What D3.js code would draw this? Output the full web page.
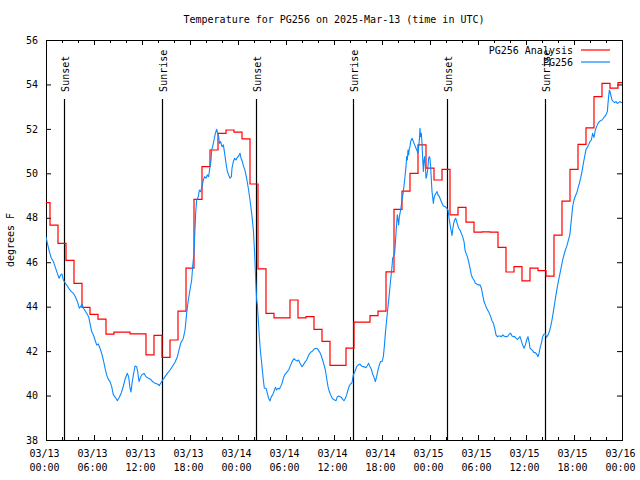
<!DOCTYPE html>
<html>
<head>
<meta charset="utf-8">
<script src="https://cdn.jsdelivr.net/npm/d3@7/dist/d3.min.js"></script>
<style>
  html, body { margin: 0; padding: 0; background: #fff; }
  svg { display: block; }
  text { font-family: "DejaVu Sans Mono", monospace; font-size: 10px; fill: #000; }
</style>
</head>
<body>
<svg id="chart" width="640" height="480"></svg>
<script>
// ---------------- DATA ----------------
const titleText = "Temperature for PG256 on 2025-Mar-13 (time in UTC)";
const yLabel = "degrees F";
const seriesNames = ["PG256 Analysis", "PG256"];

// Hourly analysis values (hour 0 = 03/13 00:00 UTC)
const analysisTemps = [
  48.68, 47.67, 46.85, 46.08, 45.05, 43.97, 43.65, 43.44, 42.76, 42.85,
  42.85, 42.78, 42.78, 41.83, 42.71, 41.72, 42.50, 43.80, 45.73, 48.83,
  50.30, 51.05, 51.80, 51.95, 51.85, 51.55, 49.52, 45.70, 43.70, 43.50,
  43.50, 44.30, 43.50, 43.55, 42.98, 42.44, 41.36, 41.36, 42.13, 43.30,
  43.30, 43.60, 43.80, 45.57, 48.38, 49.20, 50.00, 51.28, 50.23, 49.70,
  50.18, 48.13, 48.47, 47.80, 47.35, 47.37, 47.35, 46.67, 45.56, 45.80,
  45.16, 45.73, 45.62, 45.37, 47.22, 48.75, 50.18, 51.30, 52.05, 53.45,
  54.05, 53.83, 54.08
];

// Observations: hours since 03/13 00:00 UTC and temperature
const obsHours = [
  0, 0.17, 0.42, 0.67, 0.92, 1.17, 1.42, 1.63, 1.83, 2.0, 2.17, 2.42, 2.67, 2.92, 3.17, 3.42, 3.67, 3.92,
  4.17, 4.33, 4.5, 4.67, 4.88, 5.08, 5.33, 5.5, 5.71, 5.92, 6.13, 6.33, 6.54, 6.75, 6.96, 7.17, 7.38, 7.58,
  7.79, 8.0, 8.21, 8.42, 8.67, 8.92, 9.17, 9.42, 9.67, 9.92, 10.17, 10.33, 10.5, 10.63, 10.75, 10.92, 11.13,
  11.33, 11.46, 11.63, 11.75, 11.96, 12.25, 12.5, 12.79, 13.08, 13.33, 13.63, 13.92, 14.17, 14.33, 14.58,
  14.88, 15.17, 15.5, 15.83, 16.13, 16.42, 16.67,
  16.83, 17.17, 17.38, 17.58, 17.79, 18.0, 18.21, 18.33, 18.5, 18.58, 18.71, 18.83, 19.04, 19.17, 19.33,
  19.5, 19.67, 19.83, 20.0, 20.17, 20.33, 20.5, 20.63, 20.71, 20.83, 21.0, 21.17, 21.33, 21.46, 21.58,
  21.67, 21.83, 22.0, 22.17, 22.33, 22.5, 22.67, 22.83, 23.0, 23.17, 23.25, 23.42, 23.58, 23.75, 23.92,
  24.08, 24.25, 24.38, 24.54, 24.71, 24.88, 25.08, 25.29, 25.5, 25.71, 25.92, 26.08, 26.21, 26.33,
  26.42, 26.54, 26.67, 26.79, 26.92, 27.04, 27.17, 27.29, 27.5, 27.67, 27.83, 28.0, 28.17, 28.33, 28.5,
  28.67, 28.83, 29.0, 29.17, 29.33, 29.5, 29.67, 29.83, 30.0, 30.17, 30.33, 30.5, 30.67, 30.83, 31.0,
  31.17, 31.42, 31.58, 31.75, 32.0, 32.17, 32.42, 32.58, 32.75, 32.92, 33.08, 33.25, 33.42, 33.58, 33.75,
  33.92, 34.08, 34.25, 34.42, 34.58, 34.75, 34.92, 35.08, 35.25, 35.42, 35.58, 35.75, 35.92, 36.08, 36.25,
  36.42, 36.58, 36.75, 36.92, 37.08, 37.25, 37.42, 37.58, 37.75, 37.92, 38.08, 38.25,
  38.42, 38.58, 38.83, 39.04, 39.25, 39.38, 39.58, 39.75, 40.0, 40.17, 40.33, 40.5, 40.67, 40.83, 41.0,
  41.17, 41.33, 41.5, 41.67, 41.83, 42.0, 42.17, 42.29, 42.42, 42.58, 42.75, 42.92, 43.08, 43.25, 43.33,
  43.42, 43.58, 43.67, 43.75, 43.83, 43.92, 44.0, 44.08, 44.17, 44.33, 44.5, 44.67, 44.83, 45.0, 45.08,
  45.17, 45.25, 45.33, 45.42, 45.5, 45.58, 45.75, 45.92, 46.08, 46.25, 46.42, 46.5, 46.58, 46.67, 46.75,
  46.83, 46.92, 47.0, 47.08, 47.17, 47.25, 47.33, 47.42, 47.5, 47.58, 47.71, 47.83, 47.92, 48.0, 48.08,
  48.17, 48.25, 48.33, 48.42, 48.5, 48.63, 48.75, 48.88, 49.0, 49.17, 49.33, 49.5, 49.67, 49.92, 50.08,
  50.25, 50.42, 50.58, 50.75,
  50.83, 50.96, 51.08, 51.21, 51.33, 51.46, 51.58, 51.75, 51.92, 52.08, 52.25, 52.38, 52.5, 52.67, 52.83,
  53.0, 53.17, 53.33, 53.5, 53.67, 53.83, 54.0, 54.25, 54.42, 54.58, 54.75, 54.92, 55.08, 55.25, 55.42,
  55.58, 55.75, 55.92, 56.08, 56.25, 56.42, 56.58, 56.75, 56.92, 57.08, 57.25, 57.42, 57.58, 57.75, 57.92,
  58.08, 58.25, 58.42, 58.58, 58.75, 58.92, 59.08, 59.25, 59.42, 59.58, 59.75, 59.92, 60.08, 60.25, 60.42,
  60.5, 60.67, 60.83, 61.0, 61.17, 61.33, 61.5, 61.63, 61.75, 61.92, 62.08, 62.25, 62.42, 62.58, 62.75,
  62.92, 63.08, 63.25, 63.42, 63.58, 63.75, 63.92, 64.08, 64.25, 64.42, 64.58, 64.75, 64.92, 65.08, 65.25,
  65.42, 65.5, 65.58, 65.71, 65.83, 66.0, 66.17, 66.33, 66.5, 66.67, 66.83, 67.0, 67.17, 67.33, 67.5,
  67.67, 67.83, 68.0, 68.17, 68.33, 68.5, 68.67, 68.83, 69.0, 69.17, 69.33, 69.5, 69.67, 69.83, 70.0,
  70.17, 70.25, 70.33, 70.42, 70.5, 70.63, 70.75, 70.92, 71.08, 71.25, 71.42, 71.58, 71.75, 71.92, 72.0
];
const obsTemps = [
  47.15, 46.85, 46.48, 46.18, 46.03, 45.77, 45.5, 45.28, 45.43, 45.47, 45.2, 45.05, 44.93, 44.78, 44.68, 44.6, 44.45, 44.23,
  43.93, 44.0, 44.12, 43.93, 43.82, 43.7, 43.55, 43.25, 42.88, 42.73, 42.5, 42.28, 42.32, 42.13, 41.9, 41.6, 41.23, 40.93,
  40.73, 40.63, 40.4, 40.03, 39.92, 39.77, 39.92, 40.13, 40.43, 40.78, 41.0, 40.85, 40.33, 40.16, 40.55, 40.93, 41.33,
  41.3, 41.08, 40.63, 40.75, 40.93, 41.0, 40.85, 40.78, 40.73, 40.63, 40.55, 40.52, 40.45, 40.55, 40.7,
  40.85, 41.0, 41.15, 41.33, 41.5, 41.75, 42.11,
  42.35, 42.58, 42.95, 43.7, 44.3, 44.75, 45.2, 45.8, 46.4, 47.15, 48.2, 48.8, 48.95, 49.25, 49.18,
  49.4, 49.7, 49.85, 49.78, 49.93, 49.85, 50.3, 50.6, 51.05, 51.2, 51.5, 51.8, 51.98, 51.8, 51.65,
  51.35, 51.43, 51.2, 51.28, 50.9, 50.45, 50.08, 49.93, 49.78, 49.85, 50.23, 50.53, 50.68, 50.6, 50.72,
  50.78, 50.9, 50.68, 50.53, 50.3, 50.12, 49.78, 49.33, 48.8, 48.2, 47.45, 46.4, 45.2, 44.3,
  44.08, 43.4, 42.65, 42.05, 41.6, 41.15, 40.7, 40.33, 40.33, 40.1, 39.88, 39.76, 39.95, 40.03, 40.18,
  40.37, 40.25, 40.33, 40.3, 40.4, 40.55, 40.78, 40.93, 41.0, 41.08, 41.15, 41.3, 41.45, 41.57, 41.66,
  41.6, 41.55, 41.6, 41.45, 41.3, 41.38, 41.53, 41.6, 41.75, 41.87, 41.95, 41.98, 42.05, 42.11, 42.13,
  42.11, 42.02, 41.93, 41.78, 41.6, 41.38, 41.15, 40.78, 40.4, 40.18, 40.03, 39.9, 39.83, 39.8, 39.77,
  39.95, 39.98, 39.95, 39.92, 39.83, 39.77, 39.88, 40.03, 40.25, 40.45, 40.52, 40.58,
  40.93, 41.05, 41.3, 41.38, 41.42, 41.35, 41.3, 41.3, 41.25, 41.35, 41.45, 41.3, 41.18, 40.97, 40.82,
  40.63, 40.85, 41.15, 41.38, 41.53, 41.53, 41.75, 42.2, 42.8, 43.4, 44.0, 44.6, 45.2, 45.8, 46.18,
  46.25, 46.4, 46.85, 47.3, 47.75, 48.13, 47.9, 47.68, 48.05, 48.35, 48.8, 49.18, 49.7, 50.3, 50.75,
  50.6, 51.05, 50.83, 51.13, 51.2, 51.43, 51.58, 51.43, 51.28, 51.13, 50.98, 50.9, 51.2, 51.5, 52.03,
  51.65, 51.8, 51.35, 50.68, 50.08, 50.6, 50.75, 50.3, 49.78, 49.85, 50.15, 50.68, 50.75, 50.68, 50.3,
  49.7, 49.18, 48.95, 48.65, 48.88, 49.03, 49.1, 49.18, 49.03, 48.95, 48.8, 48.65, 48.53, 48.5, 48.43,
  48.35, 47.9, 47.53, 47.2,
  47.45, 47.75, 47.9, 47.98, 47.83, 47.68, 47.53, 47.45, 47.3, 47.15, 46.93, 46.55, 46.4, 46.25, 46.03,
  45.73, 45.43, 45.28, 45.2, 45.05, 45.02, 44.98, 44.98, 44.83, 44.53, 44.23, 44.08, 43.93, 43.82, 43.7,
  43.55, 43.37, 43.25, 43.03, 42.73, 42.65, 42.68, 42.68, 42.65, 42.73, 42.68, 42.65, 42.65, 42.68, 42.77,
  42.8, 42.68, 42.65, 42.65, 42.58, 42.53, 42.58, 42.65, 42.46, 42.28, 42.13, 42.28, 42.5, 42.65, 42.35,
  42.13, 42.08, 42.02, 41.93, 41.93, 41.87, 41.75, 41.9, 42.13, 42.35, 42.65, 42.77, 42.77, 42.62, 42.73,
  42.88, 43.1, 43.4, 43.78, 44.15, 44.53, 44.9, 45.2, 45.5, 45.8, 46.1, 46.33, 46.55, 46.7, 46.93,
  47.15, 47.3, 47.6, 48.05, 48.5, 48.8, 48.98, 49.1, 49.33, 49.55, 49.78, 50.08, 50.45, 50.75, 51.08,
  51.17, 51.28, 51.43, 51.5, 51.8, 51.62, 51.95, 52.1, 52.25, 52.33, 52.37, 52.4, 52.48, 52.55, 52.63,
  52.78, 53.15, 53.45, 53.75, 53.68, 53.48, 53.3, 53.23, 53.18, 53.23, 53.15, 53.18, 53.23, 53.18, 53.2
];

// Sunset / sunrise markers (hours since 03/13 00:00 UTC)
const eventNames = ["Sunset", "Sunrise", "Sunset", "Sunrise", "Sunset", "Sunrise"];
const eventHours = [2.29, 14.54, 26.29, 38.41, 50.16, 62.41];
const eventLineTopTemp = 53.35;

// Axis ticks
const xMajorTicks = [0, 6, 12, 18, 24, 30, 36, 42, 48, 54, 60, 66, 72];
const xMinorTicks = [2, 4, 8, 10, 14, 16, 20, 22, 26, 28, 32, 34, 38, 40, 44, 46, 50, 52, 56, 58, 62, 64, 68, 70];
const xTickDates = ["03/13", "03/13", "03/13", "03/13", "03/14", "03/14", "03/14", "03/14", "03/15", "03/15", "03/15", "03/15", "03/16"];
const xTickTimes = ["00:00", "06:00", "12:00", "18:00", "00:00", "06:00", "12:00", "18:00", "00:00", "06:00", "12:00", "18:00", "00:00"];
const yTicks = [38, 40, 42, 44, 46, 48, 50, 52, 54, 56];
const xDomain = [0, 72];
const yDomain = [38, 56];

// ---------------- DRAW ----------------
const colors = { analysis: "#ff0000", obs: "#0a88ff" };
const M = { left: 46, right: 622, top: 40, bottom: 440 };
const svg = d3.select("#chart");

const x = d3.scaleLinear().domain(xDomain).range([M.left, M.right]);
const y = d3.scaleLinear().domain(yDomain).range([M.bottom, M.top]);

svg.append("defs").append("clipPath").attr("id", "plotclip")
  .append("rect").attr("x", M.left).attr("y", M.top)
  .attr("width", M.right - M.left).attr("height", M.bottom - M.top);

function styleAxis(g) {
  g.select(".domain").remove();
  g.selectAll(".tick line").attr("stroke", "#000").attr("stroke-width", 1);
  g.selectAll("text").attr("font-family", "DejaVu Sans Mono, monospace").attr("font-size", 10).attr("fill", "#000");
}

// Bottom axis (major, labelled)
svg.append("g").attr("transform", `translate(0,${M.bottom})`)
  .call(d3.axisBottom(x).tickValues(xMajorTicks).tickSize(-5).tickFormat(() => ""))
  .call(styleAxis)
  .call(g => g.selectAll(".tick text").each(function(d, i) {
    const t = d3.select(this);
    t.attr("dy", null).attr("y", null).text(null);
    t.append("tspan").attr("x", -2).attr("y", 17).text(xTickDates[i]);
    t.append("tspan").attr("x", -2).attr("y", 31).text(xTickTimes[i]);
  }));
// Bottom minor
svg.append("g").attr("transform", `translate(0,${M.bottom})`)
  .call(d3.axisBottom(x).tickValues(xMinorTicks).tickSize(-3).tickFormat(() => ""))
  .call(styleAxis);
// Top mirror
svg.append("g").attr("transform", `translate(0,${M.top})`)
  .call(d3.axisTop(x).tickValues(xMajorTicks).tickSize(-5).tickFormat(() => ""))
  .call(styleAxis);
svg.append("g").attr("transform", `translate(0,${M.top})`)
  .call(d3.axisTop(x).tickValues(xMinorTicks).tickSize(-3).tickFormat(() => ""))
  .call(styleAxis);
// Left axis
svg.append("g").attr("transform", `translate(${M.left},0)`)
  .call(d3.axisLeft(y).tickValues(yTicks).tickSize(-5).tickPadding(8).tickFormat(d3.format("d")))
  .call(styleAxis);
// Right mirror
svg.append("g").attr("transform", `translate(${M.right},0)`)
  .call(d3.axisRight(y).tickValues(yTicks).tickSize(-5).tickFormat(() => ""))
  .call(styleAxis);

// Plot border
svg.append("rect")
  .attr("x", M.left + 0.5).attr("y", M.top + 0.5)
  .attr("width", M.right - M.left).attr("height", M.bottom - M.top)
  .attr("fill", "none").attr("stroke", "#000").attr("stroke-width", 1);

// Sunrise / sunset markers
const ev = svg.append("g");
eventHours.forEach((h, i) => {
  const xe = Math.round(x(h)) + 0.5;
  ev.append("line")
    .attr("x1", xe).attr("x2", xe)
    .attr("y1", y(eventLineTopTemp)).attr("y2", y(yDomain[0]))
    .attr("stroke", "#000").attr("stroke-width", 1.2);
  ev.append("text")
    .attr("transform", `translate(${x(h) + 4.5},${y(eventLineTopTemp) - 7}) rotate(-90)`)
    .attr("text-anchor", "start")
    .text(eventNames[i]);
});

// Series
const plot = svg.append("g").attr("clip-path", "url(#plotclip)");
const analysisLine = d3.line()
  .x((d, i) => x(i))
  .y(d => y(d))
  .curve(d3.curveStep);
plot.append("path")
  .datum(analysisTemps)
  .attr("d", analysisLine)
  .attr("fill", "none").attr("stroke", colors.analysis).attr("stroke-width", 1.2);

const obsLine = d3.line()
  .x((d, i) => x(obsHours[i]))
  .y(d => y(d));
plot.append("path")
  .datum(obsTemps)
  .attr("d", obsLine)
  .attr("fill", "none").attr("stroke", colors.obs).attr("stroke-width", 1.1)
  .attr("stroke-linejoin", "round");

// Legend
const legend = svg.append("g");
const legendColors = [colors.analysis, colors.obs];
seriesNames.forEach((name, i) => {
  const ly = 50 + i * 12;
  legend.append("text")
    .attr("x", 573).attr("y", ly).attr("dy", "0.35em")
    .attr("text-anchor", "end").text(name);
  legend.append("line")
    .attr("x1", 581).attr("x2", 610).attr("y1", ly).attr("y2", ly)
    .attr("stroke", legendColors[i]).attr("stroke-width", 1.2);
});

// Title
svg.append("text")
  .attr("x", (M.left + M.right) / 2).attr("y", 23)
  .attr("text-anchor", "middle").text(titleText);

// Y label
svg.append("text")
  .attr("transform", `translate(14,${(M.top + M.bottom) / 2}) rotate(-90)`)
  .attr("text-anchor", "middle").text(yLabel);
</script>
</body>
</html>
